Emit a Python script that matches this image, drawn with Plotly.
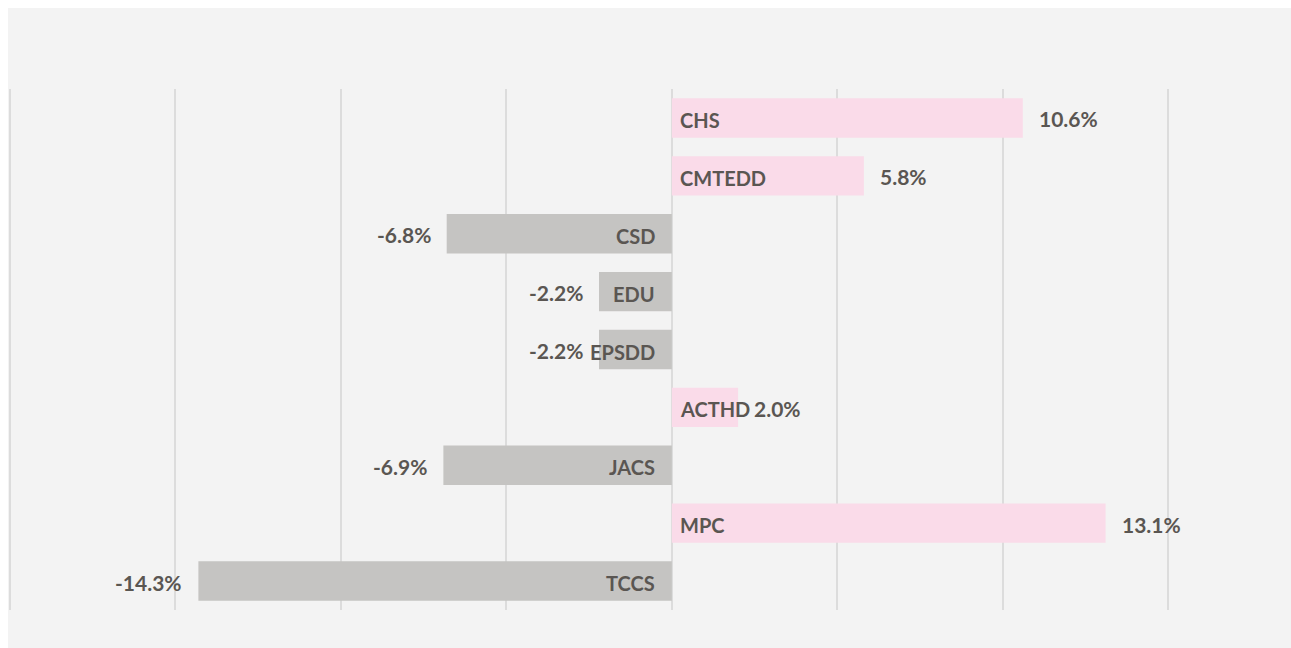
import plotly.graph_objects as go

categories = ["CHS", "CMTEDD", "CSD", "EDU", "EPSDD", "ACTHD", "JACS", "MPC", "TCCS"]
values = [10.6, 5.8, -6.8, -2.2, -2.2, 2.0, -6.9, 13.1, -14.3]

POS_COLOR = "#fadbe9"
NEG_COLOR = "#c5c4c2"
TEXT_COLOR = "#5a5652"
VALUE_FONT = dict(family="Lato, 'Open Sans', sans-serif", size=21, color=TEXT_COLOR)
NAME_FONT = dict(family="Lato, 'Open Sans', sans-serif", size=20, color=TEXT_COLOR)

fig = go.Figure(
    go.Bar(
        x=values,
        y=categories,
        orientation="h",
        width=0.68,
        marker=dict(color=[POS_COLOR if v >= 0 else NEG_COLOR for v in values], line=dict(width=0)),
        hoverinfo="skip",
    )
)

annotations = []
for c, v in zip(categories, values):
    pos = v >= 0
    annotations.append(dict(
        x=v, y=c, xref="x", yref="y", text=f"<b>{v:.1f}%</b>", showarrow=False,
        xanchor="left" if pos else "right", xshift=14 if pos else -14, yshift=-1,
        font=VALUE_FONT,
    ))
    annotations.append(dict(
        x=0, y=c, xref="x", yref="y", text=f"<b>{c}</b>", showarrow=False,
        xanchor="left" if pos else "right", xshift=6 if pos else -15, yshift=-2,
        font=NAME_FONT,
    ))

fig.update_layout(
    width=1283,
    height=648,
    paper_bgcolor="#f3f3f3",
    plot_bgcolor="#f3f3f3",
    margin=dict(l=0, r=0, t=81, b=46),
    showlegend=False,
    annotations=annotations,
    xaxis=dict(
        range=[-20.05, 18.7],
        tick0=0, dtick=5,
        showgrid=True, gridcolor="#dcdcdc", gridwidth=2,
        zeroline=False, showticklabels=False, ticks="",
        fixedrange=True,
    ),
    yaxis=dict(
        type="category", autorange="reversed",
        showgrid=False, zeroline=False, showticklabels=False, ticks="",
    ),
)

fig.write_html(
    "out.html",
    post_script="document.body.style.margin='8px 0 0 8px';document.body.style.overflow='hidden';",
)
